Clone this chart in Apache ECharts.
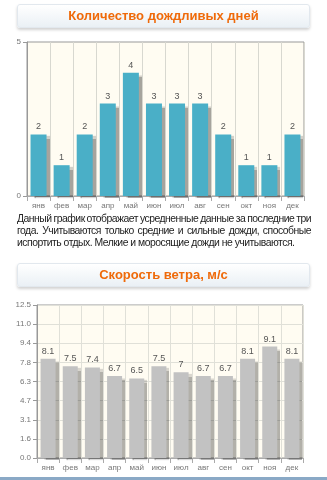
<!DOCTYPE html>
<html><head><meta charset="utf-8">
<script src="https://cdn.jsdelivr.net/npm/echarts@6/dist/echarts.min.js"></script>
<style>
html,body{margin:0;padding:0;background:#fff;width:327px;height:480px;overflow:hidden;font-family:"Liberation Sans",Arial,sans-serif;}
#chart{position:absolute;left:0;top:0;width:327px;height:480px;}
.title{position:absolute;left:17px;width:291px;height:22px;border-radius:3px;background:linear-gradient(#ffffff,#eaf0f5);border:1px solid #e2e8ee;box-shadow:0 2px 3px rgba(0,0,0,0.18);color:#ef6a0a;font-weight:bold;font-size:13px;line-height:22px;text-align:center;}
#p{position:absolute;left:17px;top:213px;width:294px;font-size:10.4px;line-height:12px;color:#222;letter-spacing:-0.5px;word-spacing:-1.5px;}
#p div{text-align:justify;text-align-last:justify;}
#p div.last{text-align-last:left;word-spacing:0;}
#bl{position:absolute;left:0;top:477px;width:327px;height:3px;background:#8aa9c6;}
</style></head>
<body>
<div id="chart"></div>
<div class="title" style="top:4px">Количество дождливых дней</div>
<div id="p"><div>Данный график отображает усредненные данные за последние три</div><div>года. Учитываются только средние и сильные дожди, способные</div><div class="last">испортить отдых. Мелкие и моросящие дожди не учитываются.</div></div>
<div class="title" style="top:263px">Скорость ветра, м/с</div>
<div id="bl"></div>
<script>
const months = ['янв','фев','мар','апр','май','июн','июл','авг','сен','окт','ноя','дек'];
const rainDays = [2,1,2,3,4,3,3,3,2,1,1,2];
const windSpeed = [8.1,7.5,7.4,6.7,6.5,7.5,7,6.7,6.7,8.1,9.1,8.1];
const rainTicks = ['0','5'];
const windTicks = ['0.0','1.6','3.1','4.7','6.3','7.8','9.4','11.0','12.5'];

const chart = echarts.init(document.getElementById('chart'), null, {renderer:'canvas'});
const lbl = {color:'#777', fontSize:8, fontFamily:'"Liberation Sans",Arial'};
chart.setOption({
  animation:false,
  grid:[
    {left:27, right:23, top:42, height:154, show:true, backgroundColor:'#fffcf2', borderColor:'#999', borderWidth:1},
    {left:37, right:24, top:305, height:153, show:true, backgroundColor:'#fffcf2', borderColor:'#999', borderWidth:1}
  ],
  xAxis:[
    {type:'category', gridIndex:0, data:months, axisLine:{lineStyle:{color:'#aaa'}}, axisTick:{show:true, lineStyle:{color:'#aaa'}},
     axisLabel:Object.assign({margin:6}, lbl), splitLine:{show:true, lineStyle:{color:'#d8d8d0'}}},
    {type:'category', gridIndex:1, data:months, axisLine:{lineStyle:{color:'#aaa'}}, axisTick:{show:true, lineStyle:{color:'#aaa'}},
     axisLabel:Object.assign({margin:6}, lbl), splitLine:{show:true, lineStyle:{color:'#e0e0d8'}}}
  ],
  yAxis:[
    {type:'value', gridIndex:0, min:0, max:5, interval:5, axisLine:{show:true, lineStyle:{color:'#999'}}, axisTick:{show:true, length:4, lineStyle:{color:'#999'}},
     axisLabel:Object.assign({margin:6, formatter:(v,i)=>rainTicks[i]}, lbl), splitLine:{show:false}},
    {type:'value', gridIndex:1, min:0, max:12.5, interval:1.5625, axisLine:{show:true, lineStyle:{color:'#999'}}, axisTick:{show:true, length:4, lineStyle:{color:'#999'}},
     axisLabel:Object.assign({margin:6, formatter:(v,i)=>windTicks[i]}, lbl), splitLine:{show:true, lineStyle:{color:'#e0e0d8'}}}
  ],
  series:[
    {type:'bar', xAxisIndex:0, yAxisIndex:0, data:rainDays, barWidth:16,
     itemStyle:{color:'#4aafc7', shadowColor:'rgba(0,0,0,0.35)', shadowOffsetX:3, shadowOffsetY:2, shadowBlur:1},
     label:{show:true, position:'top', distance:3, color:'#555', fontSize:9, fontFamily:'"Liberation Sans",Arial'}},
    {type:'bar', xAxisIndex:1, yAxisIndex:1, data:windSpeed, barWidth:15,
     itemStyle:{color:'#c2c2c2', shadowColor:'rgba(0,0,0,0.3)', shadowOffsetX:3, shadowOffsetY:2, shadowBlur:1},
     label:{show:true, position:'top', distance:3, color:'#555', fontSize:9, fontFamily:'"Liberation Sans",Arial'}}
  ]
});
</script>
</body></html>
